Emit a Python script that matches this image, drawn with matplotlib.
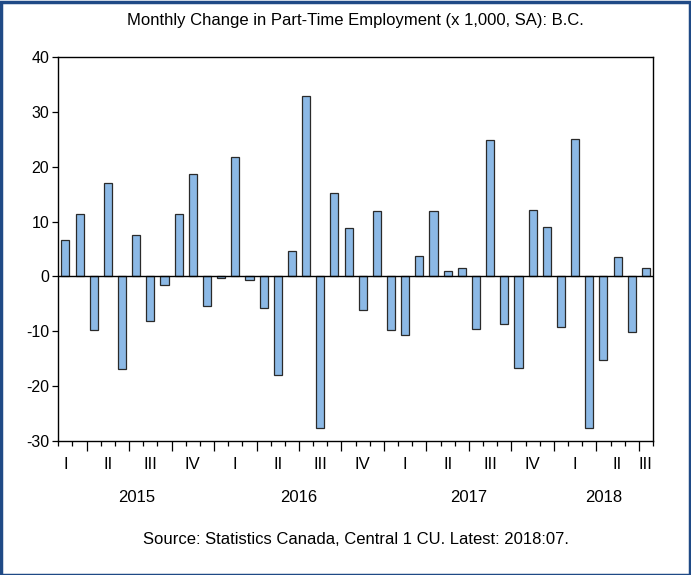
#!/usr/bin/env python3
import numpy as np
import matplotlib
matplotlib.use('Agg')
import matplotlib.pyplot as plt
from matplotlib.patches import Rectangle

plt.rcParams['font.family'] = ['Liberation Sans', 'DejaVu Sans']

# monthly change, Feb 2015 .. Jul 2018 (x 1,000)
changes = [6.6, 11.4, -9.8, 17.1, -16.8, 7.5, -8.1, -1.6, 11.4, 18.6, -5.3, -0.25,
           21.7, -0.6, -5.8, -17.9, 4.7, 32.8, -27.7, 15.2, 8.8, -6.1, 11.9, -9.8,
           -10.7, 3.75, 11.9, 0.96, 1.45, -9.5, 24.8, -8.7, -16.7, 12.2, 9.0, -9.2,
           25.1, -27.6, -15.3, 3.6, -10.1, 1.6]
start_year, start_month = 2015, 2
years = [2015, 2016, 2017, 2018]
quarter_names = ['I', 'II', 'III', 'IV']
yticks = [-30, -20, -10, 0, 10, 20, 30, 40]

n = len(changes)
x = np.arange(n)
months_abs = np.array([start_year * 12 + start_month - 1 + i for i in range(n)])
yr = months_abs // 12
mo = months_abs % 12  # 0..11

fig = plt.figure(figsize=(6.91, 5.75), dpi=100)
ax = fig.add_axes([0.0844, 0.2330, 0.8606, 0.6679])

ax.bar(x, changes, width=0.57, color='#8CB9E6', edgecolor='#2a2a2a', linewidth=0.9, zorder=3)
ax.axhline(0, color='black', lw=1.0, zorder=4)

ax.set_xlim(-0.5, n - 0.5)
ax.set_ylim(-30, 40)
ax.set_yticks(yticks)
ax.set_yticklabels([str(v) for v in yticks], fontsize=11.5)
ax.tick_params(axis='y', direction='out', length=4.5, width=0.9, pad=2)

# month ticks: minor at every month boundary, major at quarter boundaries
bounds = np.arange(n + 1) - 0.5
ax.set_xticks(bounds, minor=True)
qb = [b for b in range(1, n) if mo[b] % 3 == 0]
ax.set_xticks(np.array(qb) - 0.5)
ax.set_xticklabels([])
ax.tick_params(axis='x', which='major', direction='out', length=7, width=0.9)
ax.tick_params(axis='x', which='minor', direction='out', length=3.5, width=0.9)
for s in ax.spines.values():
    s.set_linewidth(1.0)
    s.set_color('black')

# quarter labels at middle month of each quarter (clipped to range)
trans = ax.get_xaxis_transform()
qkeys = sorted(set(zip(yr, mo // 3)))
for (y_, q) in qkeys:
    mid_abs = y_ * 12 + q * 3 + 1
    pos = min(max(mid_abs - months_abs[0], 0), n - 1)
    ax.text(pos, -0.062, quarter_names[q], transform=trans, ha='center', va='center', fontsize=12)

for y_ in years:
    idx = x[yr == y_]
    ax.text((idx[0] + idx[-1]) / 2, -0.147, str(y_), transform=trans, ha='center', va='center', fontsize=12)

cx = 0.0844 + 0.8606 / 2
fig.text(cx, 0.965, 'Monthly Change in Part-Time Employment (x 1,000, SA): B.C.',
         ha='center', va='center', fontsize=12)
fig.text(cx, 0.062, 'Source: Statistics Canada, Central 1 CU. Latest: 2018:07.',
         ha='center', va='center', fontsize=12)

fig.patches.append(Rectangle((0.002, 0.0), 0.996, 0.997, transform=fig.transFigure,
                             fill=False, edgecolor='#1F4A86', linewidth=2.5))

fig.savefig('out.png', dpi=100)
